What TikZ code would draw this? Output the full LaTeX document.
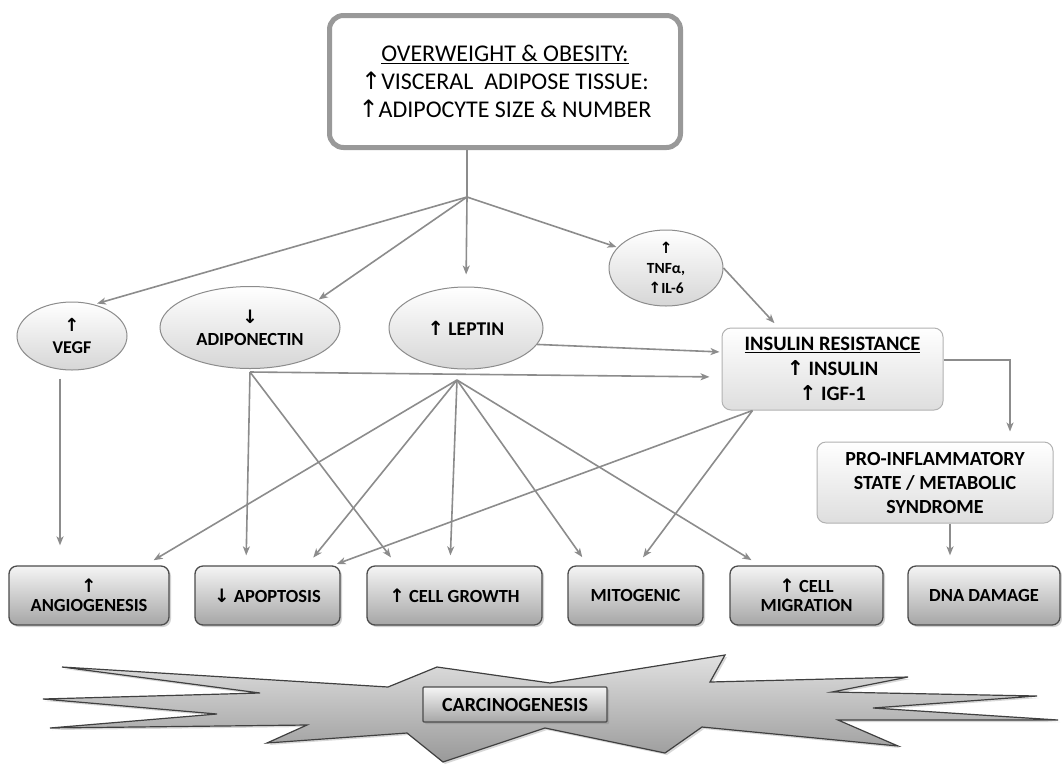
\documentclass[tikz,border=0pt]{standalone}
\usepackage{fontspec}
\setmainfont{Carlito}
\newfontfamily\symfont{DejaVu Sans}
\usetikzlibrary{shapes.geometric,arrows.meta,shadows}
\newcommand{\upar}{{\symfont\char"2191}}
\newcommand{\dnar}{{\symfont\char"2193}}

\begin{document}
\begin{tikzpicture}[x=1pt,y=-1pt,
    wire/.style={draw=black!45, line width=1.6pt},
    link/.style={wire, -{Stealth[length=9pt,width=7pt,inset=2.5pt]}, shorten >=10pt},
    bubble/.style={ellipse, draw=black!45, line width=1pt, top color=white, bottom color=black!16,
        inner sep=0pt, align=center, font=\bfseries\fontsize{18.5}{22}\selectfont},
    softbox/.style={rectangle, rounded corners=9pt, draw=black!30, line width=1pt, top color=white,
        bottom color=black!13, inner sep=0pt, align=center, font=\bfseries\fontsize{20}{24}\selectfont},
    effect/.style={rectangle, rounded corners=8pt, draw=black!70, line width=1.3pt, top color=black!4,
        bottom color=black!35, minimum height=59pt, inner sep=0pt, align=center,
        font=\bfseries\fontsize{18.5}{19}\selectfont,
        drop shadow={shadow xshift=2pt, shadow yshift=-2pt, opacity=.35}}]

    % Colori e area del disegno
    \def\starline{black!75}
    \useasboundingbox (0,0) rectangle (1062,764);
    \fill[white] (0,0) rectangle (1062,764);

    % Causa iniziale
    \node[draw=black!40, line width=5pt, rounded corners=14pt, fill=white, minimum width=351pt,
        minimum height=132pt, align=center, font=\fontsize{24}{28}\selectfont] (obesity) at (505,81.5)
        {\underline{OVERWEIGHT \& OBESITY:}\\ \upar VISCERAL\ \ ADIPOSE TISSUE:\\ \upar ADIPOCYTE SIZE \& NUMBER};

    % Mediatori
    \node[bubble, minimum width=110pt, minimum height=68pt, font=\bfseries\fontsize{18}{22}\selectfont] (vegf) at (72,336) {\upar\\VEGF};
    \node[bubble, minimum width=180pt, minimum height=82pt] (adipo) at (250,327.5) {\dnar\\ADIPONECTIN};
    \node[bubble, minimum width=154pt, minimum height=82pt, font=\bfseries\fontsize{19.5}{22}\selectfont] (lept) at (466,328) {\upar\ LEPTIN};
    \node[bubble, minimum width=114pt, minimum height=76pt, font=\bfseries\fontsize{15.5}{20}\selectfont] (tnf) at (666,268) {\upar\\TNFα,\\\upar IL-6};

    \node[softbox, minimum width=221pt, minimum height=82pt, font=\bfseries\fontsize{20.5}{25}\selectfont] (ins) at (832.5,369)
        {\underline{INSULIN RESISTANCE}\\\upar\ INSULIN\\\upar\ IGF-1};
    \node[softbox, minimum width=236pt, minimum height=81pt] (pro) at (935,482.5)
        {PRO-INFLAMMATORY\\STATE / METABOLIC\\SYNDROME};

    % Effetti
    \node[effect, minimum width=160pt] (angio) at (89,595.5) {\upar\\ANGIOGENESIS};
    \node[effect, minimum width=145pt] (apop) at (267.5,595.5) {\dnar\ APOPTOSIS};
    \node[effect, minimum width=175pt] (growth) at (454.5,595.5) {\upar\ CELL GROWTH};
    \node[effect, minimum width=135pt] (mito) at (635.5,595.5) {MITOGENIC};
    \node[effect, minimum width=153pt] (migr) at (806.5,595.5) {\upar\ CELL\\MIGRATION};
    \node[effect, minimum width=152pt] (dna) at (984,595.5) {DNA DAMAGE};

    % Stella della cancerogenesi
    \draw[draw=\starline, line width=1.2pt, top color=black!12, bottom color=black!40,
        drop shadow={shadow xshift=2pt, shadow yshift=-2pt, opacity=.3}]
        (62,667) -- (388,687) -- (437,667) -- (550,683) -- (725,655) -- (710,682) -- (908,677)
        -- (832,692) -- (1037,696) -- (873,708) -- (1058,720) -- (838,720) -- (898,746)
        -- (702,727) -- (665,753) -- (545,728) -- (443,762) -- (407,733) -- (267,743)
        -- (307,725) -- (50,728) -- (217,714) -- (43,699) -- (260,693) -- cycle;
    \node[effect, rounded corners=1pt, minimum width=184pt, minimum height=35pt,
        font=\bfseries\fontsize{20}{22}\selectfont] (carc) at (515,704.5) {CARCINOGENESIS};

    % Punti di partenza delle frecce
    \coordinate (hub) at (467,197);
    \coordinate (adipoFoot) at (250,372);
    \coordinate (leptFoot) at (457,380);
    \coordinate (insFoot) at ([xshift=-80pt]ins.south);

    % Frecce dall'obesita
    \draw[wire] (obesity.south -| hub) -- (hub);
    \draw[link, shorten >=3pt] (hub) -- (vegf.55);
    \draw[link, shorten >=1pt] (hub) -- (adipo.22);
    \draw[link, shorten >=12pt] (hub) -- (lept.north);
    \draw[link, shorten >=1pt] (hub) -- (tnf.157);

    % Verso la resistenza insulinica
    \draw[link, shorten >=6pt] (tnf.east) -- ([xshift=-54pt]ins.north);
    \draw[link, shorten >=2pt] (lept.-13) -- ([yshift=17pt]ins.west);
    \draw[link, shorten >=12pt] (adipoFoot) -- ([yshift=-8pt]ins.west);
    \draw[link] ([yshift=9pt]ins.east) -| ([xshift=75pt]pro.north);
    \draw[link] ([xshift=15pt]pro.south) -- ([xshift=-34pt]dna.north);

    % Verso gli effetti
    \draw[link, shorten >=20pt] ([xshift=-12pt,yshift=-8pt]vegf.south) -- ([xshift=-29pt]angio.north);
    \draw[link] (adipoFoot) -- ([xshift=-21.5pt]apop.north);
    \draw[link] (adipoFoot) -- ([xshift=-57.5pt]growth.north);
    \foreach \target/\dx in {angio/56, apop/39.5, growth/-4.5, mito/-47.5, migr/-46.5}
        \draw[link] (leptFoot) -- ([xshift=\dx pt]\target.north);
    \draw[link, shorten >=4pt] (insFoot) -- ([xshift=65.5pt]apop.north);
    \draw[link] (insFoot) -- ([xshift=1.5pt]mito.north);

\end{tikzpicture}
\end{document}
